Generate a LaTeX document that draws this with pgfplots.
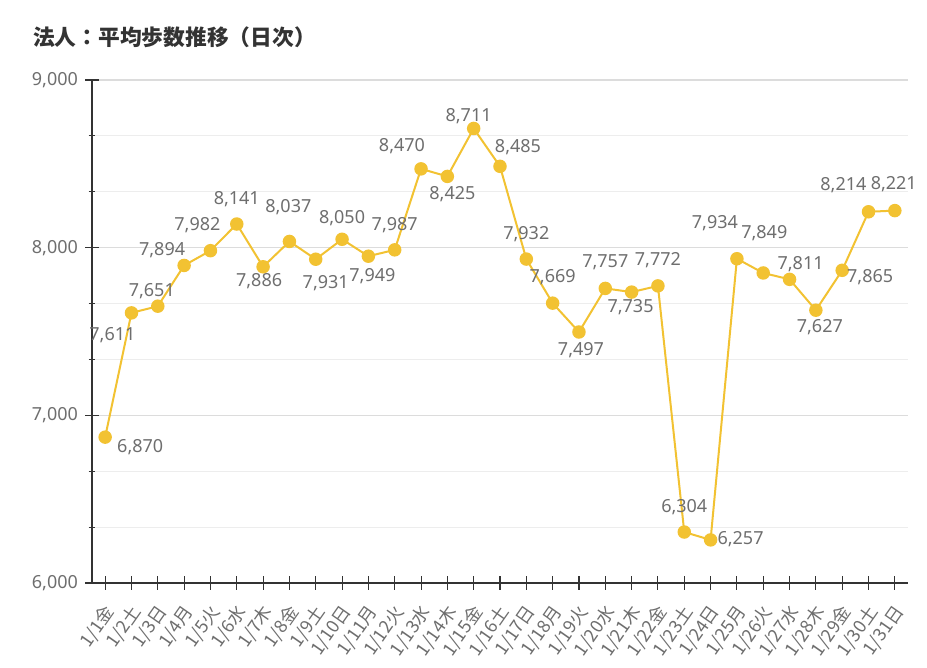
\documentclass[border=0pt]{standalone}
\usepackage{fontspec}
\setmainfont{Noto Sans}
\newfontfamily\jp{Noto Sans CJK JP}
\usepackage{pgfplots}
\pgfplotsset{compat=1.18}
\usepackage{pgfplotstable}
\definecolor{linecol}{HTML}{F2C232}
\definecolor{txt}{HTML}{6E6E6E}
\definecolor{ax}{HTML}{333333}
\definecolor{gmaj}{HTML}{DCDCDC}
\definecolor{gmin}{HTML}{EDEDED}

% x: day index, y: steps, dx/dy: label offset (pt)
\pgfplotstableread{
x y dx dy
0 6870 26.3 -7.5
1 7611 -14.3 -16.5
2 7651 -4.5 11.3
3 7894 -16.5 11.3
4 7982 -9.8 19.5
5 8141 0 18.8
6 7886 -3 -10.5
7 8037 -0.8 25.5
8 7931 7.5 -18
9 8050 0 15.8
10 7949 3 -15
11 7987 0 18.8
12 8470 -14.3 17.3
13 8425 3.8 -13.5
14 8711 -3.8 9
15 8485 13.5 14.3
16 7932 0 18.8
17 7669 0 19.5
18 7497 1.5 -13.5
19 7757 0 19.5
20 7735 -0.8 -11.3
21 7772 0 19.5
22 6304 0 18.8
23 6257 22.5 0.8
24 7934 -16.5 27
25 7849 0.8 30
26 7811 8.3 11.3
27 7627 3 -12.8
28 7865 21 -5.3
29 8214 -18.8 20.3
30 8221 -0.8 19.5
}\steps

\begin{document}
\begin{tikzpicture}
\useasboundingbox (-69pt,-63pt) rectangle (626.25pt,437.25pt);
\node[anchor=west, font=\jp\bfseries\fontsize{16.3}{19}\selectfont, text=ax, inner sep=0pt]
  at (-44.25pt,409.5pt) {法人：平均歩数推移（日次）};
\begin{axis}[
  scale only axis,
  width=612pt, height=377.25pt,
  xmin=-0.5, xmax=30.5,
  ymin=6000, ymax=9000,
  axis x line*=bottom, axis y line*=left,
  axis line style={ax, line width=0.8pt},
  xtick={0,...,30},
  xticklabels={1/1金,1/2土,1/3日,1/4月,1/5火,1/6水,1/7木,1/8金,1/9土,1/10日,1/11月,1/12火,1/13水,1/14木,1/15金,1/16土,1/17日,1/18月,1/19火,1/20水,1/21木,1/22金,1/23土,1/24日,1/25月,1/26火,1/27水,1/28木,1/29金,1/30土,1/31日},
  x tick label style={font=\jp\fontsize{13.5}{16}\selectfont, text=txt, xshift=4pt, yshift=-14pt, rotate=55, anchor=east, inner sep=0pt},
  ytick={6000,7000,8000,9000},
  minor y tick num=2,
  ymajorgrids, yminorgrids,
  major grid style={gmaj, line width=0.8pt},
  minor grid style={gmin, line width=0.8pt},
  tick align=center,
  major tick length=10pt, minor tick length=5pt,
  tick style={ax, line width=0.8pt},
  y tick label style={font=\fontsize{13.5}{16}\selectfont, text=txt, xshift=-2pt},
  scaled y ticks=false,
  /pgf/number format/fixed,
  /pgf/number format/precision=0,
  /pgf/number format/1000 sep={,},
  /pgf/number format/assume math mode=true,
  clip=false,
]
\addplot[linecol, line width=1.5pt, mark=*, mark size=4.3pt,
  mark options={fill=linecol, draw=linecol},
  nodes near coords={\pgfmathprintnumber[fixed,precision=0,1000 sep={,},assume math mode=true]{\pgfplotspointmeta}},
  visualization depends on={\thisrow{dx} \as \dx},
  visualization depends on={\thisrow{dy} \as \dy},
  every node near coord/.append style={anchor=center, xshift=\dx pt, yshift=\dy pt,
    text=txt, font=\fontsize{13.5}{16}\selectfont}]
  table[x=x, y=y] {\steps};
\end{axis}
\end{tikzpicture}
\end{document}
